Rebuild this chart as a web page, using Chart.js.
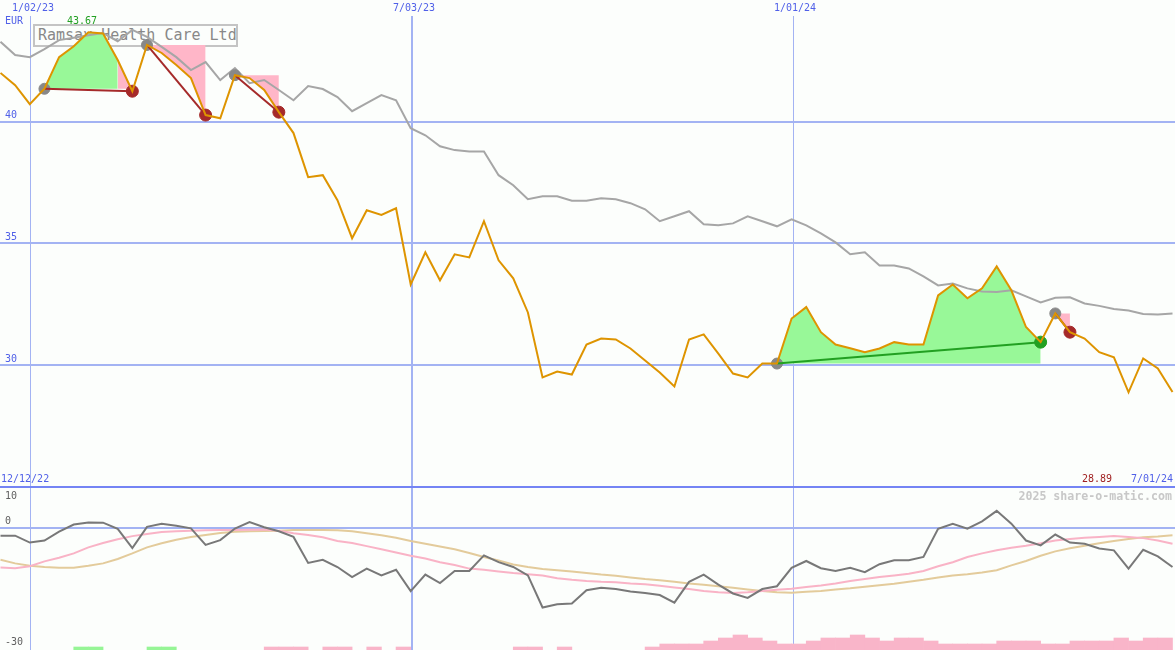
<!DOCTYPE html>
<html lang="en">
  <head>
    <meta charset="UTF-8" />
    <title>Ramsay Health Care Ltd</title>
    <script src="https://cdn.jsdelivr.net/npm/chart.js"></script>
    <style>
      body { margin: 0; background: #fcfefc; font-family: "DejaVu Sans Mono", monospace; }
      #wrap { position: relative; width: 1175px; height: 650px; overflow: hidden; }
      canvas { position: absolute; left: 0; z-index: 2; }
      #priceChart { top: 0; }
      #oscChart { top: 488px; }
      .lbl { position: absolute; font-size: 10px; line-height: 12px; white-space: pre; z-index: 3; color: #5060e8; }
      #title {
        position: absolute; left: 33px; top: 24px; width: 205px; height: 23px;
        box-sizing: border-box; border: 2px solid #c4c4c4; color: #888;
        font-size: 15px; line-height: 19px; padding-left: 3px; white-space: pre; z-index: 1;
      }
      #sep { position: absolute; left: 0; top: 486px; width: 1175px; height: 2px; background: #7484f4; z-index: 3; }
      #brand { position: absolute; right: 3px; top: 489px; font-size: 11.6px; line-height: 14px;
        font-weight: bold; color: #c8c8c8; z-index: 3; white-space: pre; }
    </style>
  </head>
  <body>
    <div id="wrap">
      <div id="title">Ramsay Health Care Ltd</div>
      <canvas id="priceChart" width="1175" height="486"></canvas>
      <canvas id="oscChart" width="1175" height="162"></canvas>
      <div id="sep"></div>
      <div class="lbl" style="left:5px;top:15px">EUR</div>
      <div class="lbl" id="maxLbl" style="left:67px;top:15px;color:#22a022"></div>
      <div class="lbl" style="left:1px;top:473px">12/12/22</div>
      <div class="lbl" id="lastLbl" style="left:1082px;top:473px;color:#a02020"></div>
      <div class="lbl" style="left:1131px;top:473px">7/01/24</div>
      <div id="brand">2025 share-o-matic.com</div>
    </div>

    <script>
      // weekly closes from 12/12/22 to 7/01/24
      const price = [
        42.00, 41.50, 40.72, 41.35, 42.65, 43.10, 43.67, 43.62, 42.53, 41.25,
        43.15, 42.82, 42.33, 41.79, 40.27, 40.14, 41.91, 41.79, 41.30, 40.39,
        39.53, 37.72, 37.80, 36.77, 35.21, 36.36, 36.17, 36.44, 33.31, 34.63,
        33.48, 34.55, 34.42, 35.91, 34.30, 33.56, 32.16, 29.49, 29.73, 29.61,
        30.84, 31.09, 31.05, 30.68, 30.19, 29.69, 29.12, 31.05, 31.26, 30.47,
        29.65, 29.49, 30.06, 30.06, 31.91, 32.38, 31.35, 30.84, 30.69, 30.53,
        30.68, 30.94, 30.84, 30.84, 32.86, 33.31, 32.74, 33.15, 34.05, 33.07,
        31.56, 30.94, 32.12, 31.35, 31.09, 30.53, 30.32, 28.88, 30.27, 29.86,
        28.89
      ];
      // moving average (grey)
      const avg = [
        43.28, 42.74, 42.65, 42.98, 43.35, 43.45, 43.55, 43.64, 43.30, 43.77,
        43.48, 43.07, 42.65, 42.12, 42.45, 41.71, 42.20, 41.58, 41.71, 41.30,
        40.88, 41.46, 41.34, 41.01, 40.43, 40.76, 41.09, 40.88, 39.73, 39.44,
        38.99, 38.83, 38.77, 38.77, 37.80, 37.39, 36.81, 36.93, 36.93, 36.75,
        36.75, 36.85, 36.81, 36.65, 36.40, 35.91, 36.11, 36.32, 35.78, 35.74,
        35.82, 36.11, 35.91, 35.70, 35.99, 35.74, 35.41, 35.04, 34.55, 34.63,
        34.09, 34.09, 33.97, 33.64, 33.27, 33.35, 33.15, 33.02, 33.00, 33.07,
        32.82, 32.57, 32.76, 32.78, 32.53, 32.43, 32.30, 32.24, 32.10, 32.08,
        32.12
      ];
      // lower panel: momentum and its two averages
      const osc = [
        -2.0, -2.0, -3.7, -3.2, -1.0, 0.8, 1.3, 1.25, -0.3, -5.1,
        0.2, 1.0, 0.5, -0.15, -4.3, -3.1, -0.2, 1.4, 0.1, -0.9,
        -2.3, -8.8, -8.0, -9.8, -12.3, -10.2, -11.9, -10.5, -15.8, -11.7,
        -13.8, -10.8, -10.8, -6.9, -8.6, -9.8, -11.9, -19.9, -19.1, -18.9,
        -15.6, -15.0, -15.3, -15.9, -16.3, -16.8, -18.7, -13.5, -11.7, -14.2,
        -16.4, -17.5, -15.3, -14.6, -10.0, -8.3, -10.1, -10.8, -10.0, -11.1,
        -9.1, -8.1, -8.1, -7.3, -0.25, 1.0, -0.25, 1.6, 4.2, 1.0,
        -3.2, -4.4, -1.7, -3.7, -4.0, -5.2, -5.65, -10.2, -5.5, -7.15,
        -9.8
      ];
      const oscFast = [
        -9.9, -10.1, -9.6, -8.4, -7.5, -6.4, -4.9, -3.8, -2.9, -2.1,
        -1.6, -1.1, -0.9, -0.75, -0.65, -0.6, -0.55, -0.5, -0.45, -0.75,
        -1.4, -1.8, -2.4, -3.3, -3.8, -4.6, -5.4, -6.2, -7.0, -7.7,
        -8.6, -9.3, -10.2, -10.5, -10.9, -11.3, -11.6, -11.9, -12.6, -13.0,
        -13.3, -13.5, -13.6, -13.9, -14.1, -14.5, -14.9, -15.3, -15.8, -16.1,
        -16.3, -16.1, -15.8, -15.5, -15.2, -14.8, -14.4, -13.9, -13.3, -12.8,
        -12.3, -11.9, -11.5, -10.8, -9.6, -8.6, -7.3, -6.4, -5.6, -5.0,
        -4.5, -3.9, -3.2, -2.8, -2.5, -2.3, -2.1, -2.3, -2.6, -3.2,
        -4.0
      ];
      const oscSlow = [
        -8.0, -8.9, -9.5, -9.8, -10.0, -10.0, -9.5, -8.9, -7.8, -6.4,
        -4.9, -3.9, -3.0, -2.3, -1.8, -1.3, -1.0, -0.9, -0.8, -0.75,
        -0.6, -0.55, -0.6, -0.65, -0.9, -1.4, -1.9, -2.5, -3.3, -4.0,
        -4.7, -5.4, -6.3, -7.3, -8.2, -9.2, -9.8, -10.3, -10.6, -10.9,
        -11.3, -11.7, -12.0, -12.4, -12.8, -13.1, -13.5, -13.9, -14.2, -14.6,
        -15.0, -15.4, -15.8, -16.1, -16.2, -16.0, -15.8, -15.4, -15.1, -14.7,
        -14.35, -14.0, -13.5, -13.0, -12.4, -11.9, -11.6, -11.2, -10.6, -9.4,
        -8.3, -7.0, -5.9, -5.1, -4.5, -3.9, -3.3, -2.8, -2.4, -2.2,
        -1.9
      ];
      // weekly signal bars along the bottom (one per week)
      const buyBars = [
        0, 0, 0, 0, 0, 1, 1, 0, 0, 0,
        1, 1, 0, 0, 0, 0, 0, 0, 0, 0,
        0, 0, 0, 0, 0, 0, 0, 0, 0, 0,
        0, 0, 0, 0, 0, 0, 0, 0, 0, 0,
        0, 0, 0, 0, 0, 0, 0, 0, 0, 0,
        0, 0, 0, 0, 0, 0, 0, 0, 0, 0,
        0, 0, 0, 0, 0, 0, 0, 0, 0, 0,
        0, 0, 0, 0, 0, 0, 0, 0, 0, 0
      ];
      const sellBars = [
        0, 0, 0, 0, 0, 0, 0, 0, 0, 0,
        0, 0, 0, 0, 0, 0, 0, 0, 1, 1,
        1, 0, 1, 1, 0, 1, 0, 1, 0, 0,
        0, 0, 0, 0, 0, 1, 1, 0, 1, 0,
        0, 0, 0, 0, 1, 2, 2, 2, 3, 4,
        5, 4, 3, 2, 2, 3, 4, 4, 5, 4,
        3, 4, 4, 3, 2, 2, 2, 2, 3, 3,
        3, 2, 2, 3, 3, 3, 4, 3, 4, 4
      ];
      const gridWeeks = [2.08, 28.09, 54.1];
      const gridDates = ['1/02/23', '7/03/23', '1/01/24'];
      const priceTicks = [40, 35, 30];
      const oscTicks = [10, 0, -30];
      // trades: entry / exit week
      const tradeEntry = [3, 10, 16, 53, 72];
      const tradeExit = [9, 14, 19, 71, 73];
      // shaded stretches between price and entry level
      const fillFrom = [3, 8, 10, 16, 53, 72];
      const fillTo = [8, 9, 14, 19, 71, 73];
      const fillTrade = [0, 0, 1, 2, 3, 4];
      const fillGain = [true, false, false, false, true, false];

      const mono = '"DejaVu Sans Mono", monospace';
      const blue = '#5060e8';
      const gridBlue = '#a3b3f3';
      const GREEN = '#98f898', PINK = '#ffb6c8', LOSS = '#a52a2a', WIN = '#22a022';
      const xMin = -0.5 / 14.65, xMax = 1174.5 / 14.65;

      const pts = (arr, from, to) => arr.slice(from, to + 1).map((v, i) => ({ x: from + i, y: v }));
      const noPad = s => { s.paddingLeft = s.paddingRight = s.paddingTop = s.paddingBottom = 0; };

      document.getElementById('maxLbl').textContent = Math.max(...price).toFixed(2);
      document.getElementById('lastLbl').textContent = price[price.length - 1].toFixed(2);

      const datasets = [];
      fillFrom.forEach((f, i) => {
        const c = fillGain[i] ? GREEN : PINK;
        datasets.push({
          data: pts(price, f, fillTo[i]),
          borderColor: 'rgba(0,0,0,0)', pointRadius: 0, order: 10,
          fill: { value: price[tradeEntry[fillTrade[i]]], above: c, below: c }
        });
      });
      datasets.push({ data: pts(avg, 0, avg.length - 1), borderColor: '#a6a6a6', borderWidth: 2, pointRadius: 0, order: 6 });
      tradeEntry.forEach((e, i) => {
        const x = tradeExit[i];
        datasets.push({
          data: [{ x: e, y: price[e] }, { x: x, y: price[x] }],
          borderColor: price[x] > price[e] ? WIN : LOSS, borderWidth: 2, pointRadius: 0, order: 4
        });
      });
      datasets.push({
        data: tradeEntry.map(e => ({ x: e, y: price[e] })), showLine: false,
        pointRadius: 5.5, pointBackgroundColor: '#888', pointBorderColor: '#888', pointBorderWidth: 1, order: 5
      });
      const exitCol = tradeExit.map((x, i) => price[x] > price[tradeEntry[i]] ? WIN : LOSS);
      datasets.push({
        data: tradeExit.map(x => ({ x: x, y: price[x] })), showLine: false,
        pointRadius: 6, pointBackgroundColor: exitCol, pointBorderColor: exitCol, pointBorderWidth: 1, order: 5
      });
      datasets.push({ data: pts(price, 0, price.length - 1), borderColor: '#de9400', borderWidth: 2, pointRadius: 0, order: 2 });

      const xAxis = (top) => ({
        type: 'linear', min: xMin, max: xMax, position: top ? 'top' : 'bottom', offset: false,
        afterBuildTicks: s => { s.ticks = gridWeeks.map(v => ({ value: v })); },
        afterFit: s => { s.height = top ? 16 : 0; noPad(s); },
        ticks: {
          display: top, autoSkip: false, maxRotation: 0, padding: 2, labelOffset: 2,
          color: blue, font: { family: mono, size: 10 },
          callback: (v, i) => gridDates[i]
        },
        grid: { offset: false, color: gridBlue, lineWidth: c => (c.index === 1 ? 2 : 1), drawTicks: false },
        border: { display: false }
      });

      new Chart(document.getElementById('priceChart'), {
        type: 'line',
        data: { datasets: datasets },
        options: {
          responsive: false, animation: false, devicePixelRatio: 1,
          layout: { padding: 0, autoPadding: false },
          elements: { line: { tension: 0 } },
          plugins: { legend: { display: false }, tooltip: { enabled: false } },
          scales: {
            x: xAxis(true),
            y: {
              min: 25.03, max: 44.34, position: 'left',
              afterBuildTicks: s => { s.ticks = priceTicks.map(v => ({ value: v })); },
              afterFit: s => { s.width = 0; noPad(s); },
              ticks: { mirror: true, padding: 5, labelOffset: -6, color: blue, font: { family: mono, size: 10 } },
              grid: { color: gridBlue, lineWidth: 2, drawTicks: false },
              border: { display: false }
            }
          }
        }
      });

      // lower panel value labels, kept inside the panel
      const oscLabels = {
        id: 'oscLabels',
        afterDraw(chart) {
          const s = chart.scales.y, ctx = chart.ctx;
          ctx.save();
          ctx.font = '10px ' + mono;
          ctx.fillStyle = '#606060';
          ctx.textBaseline = 'middle';
          oscTicks.forEach(v => {
            ctx.fillText(String(v), 5, Math.max(s.getPixelForValue(v) - 6, 8));
          });
          ctx.restore();
        }
      };

      const barSet = (arr, color) => ({
        type: 'bar', yAxisID: 'yv', order: 5,
        data: arr.map((v, k) => ({ x: k + 0.5, y: v || null })),
        backgroundColor: color, borderWidth: 0,
        barPercentage: 1, categoryPercentage: 1, grouped: false
      });

      new Chart(document.getElementById('oscChart'), {
        type: 'line',
        data: {
          datasets: [
            barSet(buyBars, '#96f596'),
            barSet(sellBars, '#f9b5c9'),
            { data: pts(oscSlow, 0, oscSlow.length - 1), borderColor: '#e3cb9b', borderWidth: 2, pointRadius: 0, order: 3 },
            { data: pts(oscFast, 0, oscFast.length - 1), borderColor: '#f9b3c6', borderWidth: 2, pointRadius: 0, order: 2 },
            { data: pts(osc, 0, osc.length - 1), borderColor: '#787878', borderWidth: 2, pointRadius: 0, order: 1 }
          ]
        },
        options: {
          responsive: false, animation: false, devicePixelRatio: 1,
          layout: { padding: 0, autoPadding: false },
          elements: { line: { tension: 0 } },
          plugins: { legend: { display: false }, tooltip: { enabled: false } },
          scales: {
            x: xAxis(false),
            y: {
              min: -30.5, max: 9.9, position: 'left',
              afterBuildTicks: s => { s.ticks = oscTicks.map(v => ({ value: v })); },
              afterFit: s => { s.width = 0; noPad(s); },
              ticks: { display: false },
              grid: { color: c => (c.tick && c.tick.value === 0 ? gridBlue : 'rgba(0,0,0,0)'), lineWidth: 2, drawTicks: false },
              border: { display: false }
            },
            yv: { display: false, min: 0, max: 54 }
          }
        },
        plugins: [oscLabels]
      });
    </script>
  </body>
</html>
